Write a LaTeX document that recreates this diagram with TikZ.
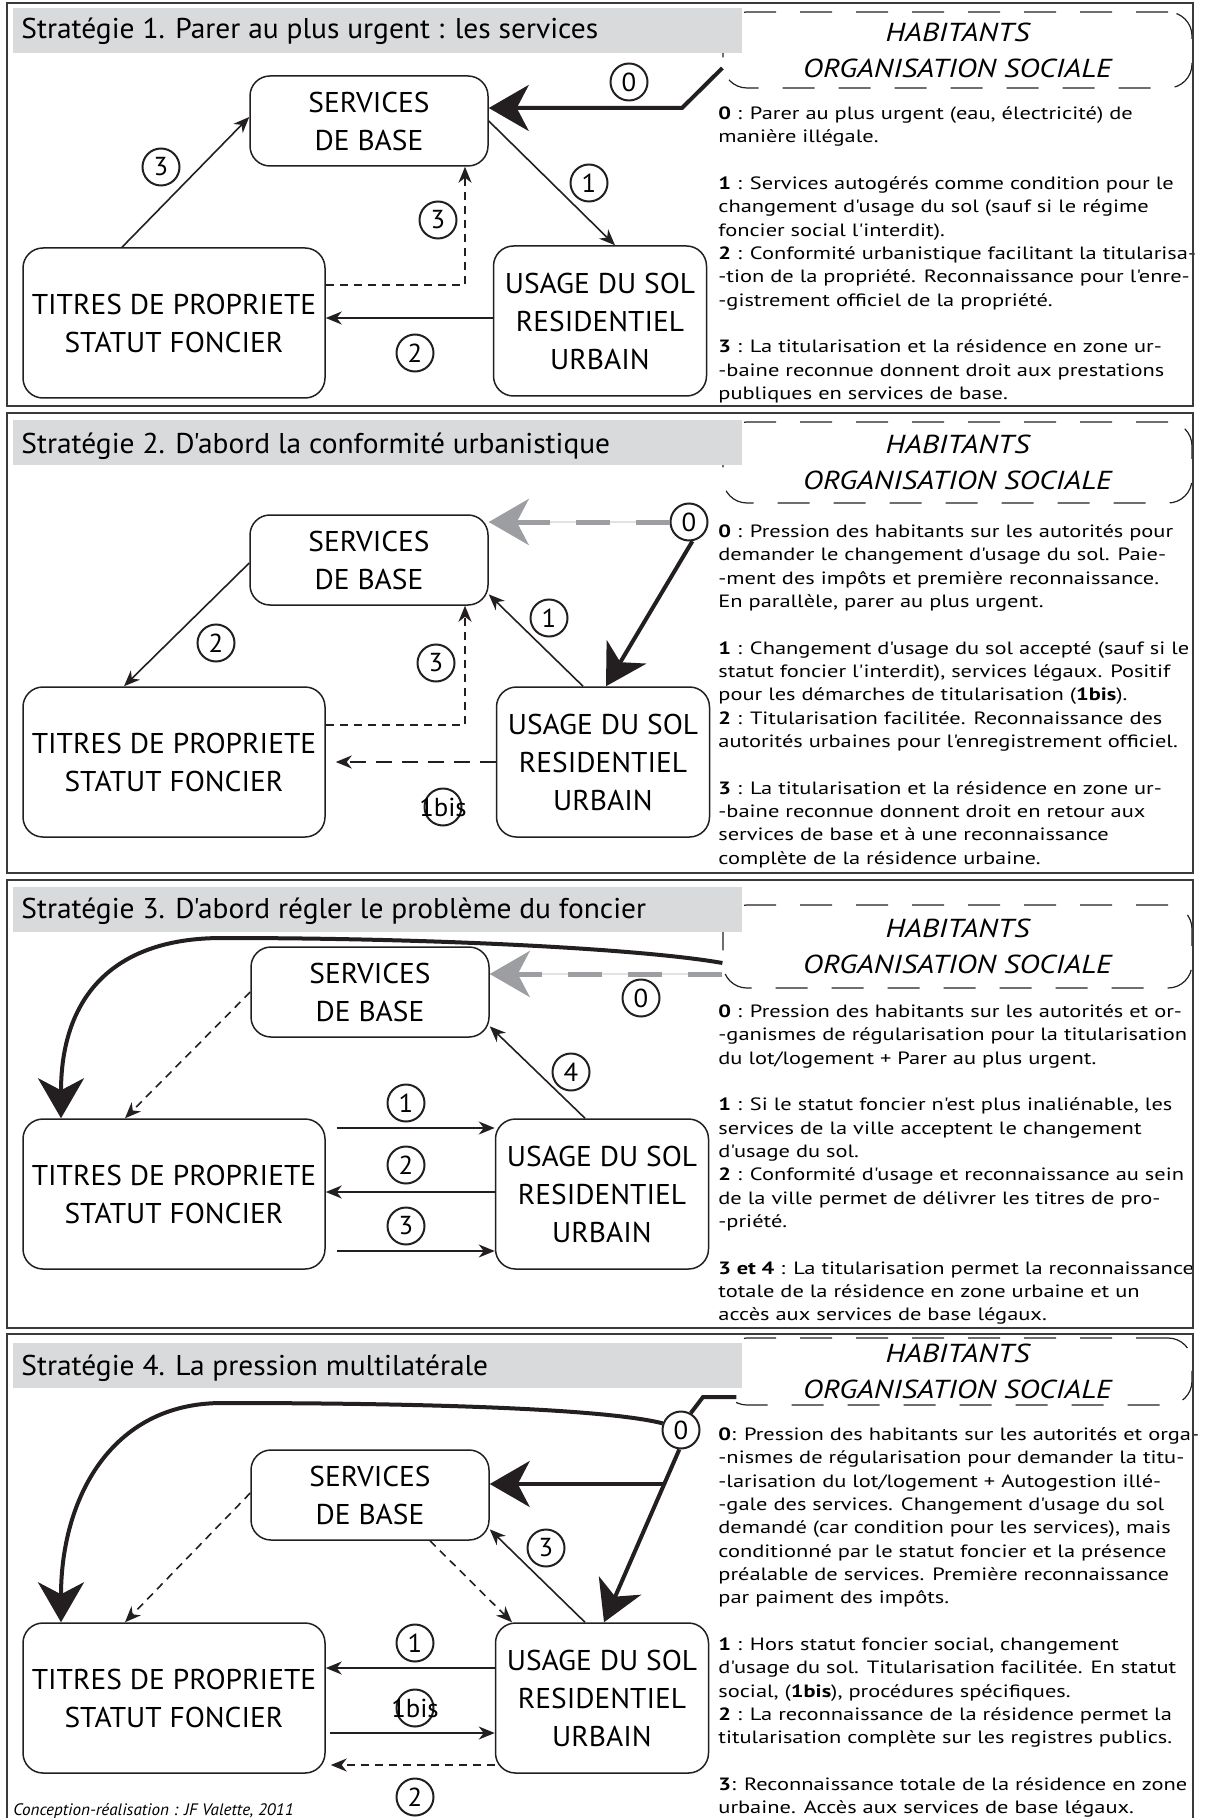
\documentclass[tikz,border=0pt]{standalone}
\usepackage{fontspec}
\setmainfont{PT Sans}
\newfontfamily\corps[FakeStretch=1.26]{PT Sans}
\newfontfamily\etroit[FakeStretch=1.03]{PT Sans}
\newfontfamily\habfont[FakeStretch=1.17]{PT Sans}
\usetikzlibrary{arrows.meta, positioning, calc}
\definecolor{GrisBande}{HTML}{D9DADB}
\definecolor{GrisFleche}{HTML}{9C9EA1}
\definecolor{GrisClair}{HTML}{E2E2E2}
\definecolor{Charbon}{HTML}{231F20}
\definecolor{Cadre}{HTML}{3A3A3A}
\tikzset{
  boite/.style={draw=Charbon, line width=0.75pt, rounded corners=10pt, align=center, inner sep=0pt, font=\etroit\fontsize{14.3}{19}\selectfont},
  serv/.style={boite, minimum width=119pt, minimum height=45pt},
  titr/.style={boite, minimum width=151pt, minimum height=75pt},
  usag/.style={boite, minimum width=106.5pt, minimum height=75pt},
  num/.style={circle, draw=Charbon, line width=1pt, minimum size=18.5pt, inner sep=0pt, font=\etroit\fontsize{13}{13}\selectfont},
  fleche/.style={draw=Charbon, line width=0.8pt, -{Stealth[length=8pt, width=6.5pt, inset=2.5pt]}},
  grosse/.style={draw=Charbon, line width=2pt, -{Stealth[length=20pt, width=23pt, inset=6pt]}},
  tirets/.style={fleche, dash pattern=on 4pt off 3pt},
  grise/.style={draw=GrisFleche, line width=2.5pt, dash pattern=on 17pt off 13pt, -{Stealth[length=20pt, width=23pt, inset=6pt]}},
  habit/.style={draw=Charbon, line width=0.6pt, dash pattern=on 16pt off 12pt, rounded corners=12pt, minimum width=234.5pt, align=center, inner sep=0pt, font=\habfont\itshape\fontsize{13}{18}\selectfont},
  cadre/.style={draw=Cadre, line width=1pt},
  bande/.style={fill=GrisBande},
  titre/.style={anchor=base west, inner sep=0pt, font=\etroit\fontsize{14.3}{17}\selectfont},
  texte/.style={anchor=north west, align=left, inner sep=0pt, font=\corps\fontsize{8.9}{11.67}\selectfont}
}
\begin{document}
\begin{tikzpicture}[x=0.5pt, y=-0.5pt]
\useasboundingbox (0,0) rectangle (1205,1818);
\clip (0,0) rectangle (1205,1818);

% Strategie 1
\node[habit, minimum height=38pt] (hab1) at (957.5,50) {HABITANTS\\ORGANISATION SOCIALE};
\fill[bande] (13,8) rectangle (742,53);
\node[titre] (tit1) at (21,39) {Stratégie 1. Parer au plus urgent : les services};
\node[serv] (serv1) at (369,121) {SERVICES\\DE BASE};
\node[titr] (titr1) at (174,323) {TITRES DE PROPRIETE\\STATUT FONCIER};
\node[usag] (usag1) at (600,321) {USAGE DU SOL\\RESIDENTIEL\\URBAIN};
\coordinate (d1) at ([yshift=-9pt]hab1.west);
\coordinate (k1) at (682,108);
\draw[grosse] (d1) -- (k1) -- (k1 -| serv1.east);
\node[num] (n10) at (629,82) {0};
\draw[fleche] ([xshift=-26pt]titr1.north) -- ([yshift=2pt]serv1.west);
\node[num] (n13) at (161,167) {3};
\draw[fleche] (serv1.east) -- ([xshift=7.5pt]usag1.north);
\node[num] (n11) at (589,183) {1};
\draw[fleche] ([yshift=1.5pt]usag1.west) -- ([yshift=1.5pt]usag1.west -| titr1.east);
\node[num] (n12) at (415,353) {2};
\draw[tirets] ([yshift=19pt]titr1.east) -| ([xshift=48pt]serv1.south);
\node[num] (n13b) at (438,220) {3};
\node[texte] (txt1) at (718,101) {\rule{0pt}{9pt}\textbf{0} : Parer au plus urgent (eau, électricité) de\\
manière illégale.\\[11.67pt]
\textbf{1} : Services autogérés comme condition pour le\\
changement d'usage du sol (sauf si le régime\\
foncier social l'interdit).\\
\textbf{2} : Conformité urbanistique facilitant la titularisa-\\
-tion de la propriété. Reconnaissance pour l'enre-\\
-gistrement officiel de la propriété.\\[11.67pt]
\textbf{3} : La titularisation et la résidence en zone ur-\\
-baine reconnue donnent droit aux prestations\\
publiques en services de base.};

% Strategie 2
\node[habit, minimum height=40.5pt] (hab2) at (957.5,462.5) {HABITANTS\\ORGANISATION SOCIALE};
\fill[bande] (13,420) rectangle (742,465);
\node[titre] (tit2) at (21,453) {Stratégie 2. D'abord la conformité urbanistique};
\node[serv] (serv2) at (369,560) {SERVICES\\DE BASE};
\node[titr] (titr2) at (174,762) {TITRES DE PROPRIETE\\STATUT FONCIER};
\node[usag] (usag2) at (603,762) {USAGE DU SOL\\RESIDENTIEL\\URBAIN};
\node[num] (n20) at (689,522) {0};
\draw[GrisClair, line width=0.8pt] (n20.west) -- (n20.west -| serv2.east);
\draw[grise] (n20.west) -- (n20.west -| serv2.east);
\draw[grosse] (n20.-80) -- ([xshift=1.5pt]usag2.north);
\draw[fleche] ([yshift=-1.5pt]serv2.west) -- ([xshift=-25pt]titr2.north);
\node[num] (n22) at (216,643) {2};
\draw[fleche] ([xshift=-10pt]usag2.north) -- (serv2.-16);
\node[num] (n21) at (549,618) {1};
\draw[tirets] ([yshift=18.5pt]titr2.east) -| ([xshift=48pt]serv2.south);
\node[num] (n23) at (436,663) {3};
\draw[tirets, dash pattern=on 8pt off 5pt, shorten >=5pt] (usag2.west) -- (usag2.west -| titr2.east);
\node[num] (n21b) at (443,807) {\makebox[0pt]{1bis}};
\node[texte] (txt2) at (718,519) {\rule{0pt}{9pt}\textbf{0} : Pression des habitants sur les autorités pour\\
demander le changement d'usage du sol. Paie-\\
-ment des impôts et première reconnaissance.\\
En parallèle, parer au plus urgent.\\[11.67pt]
\textbf{1} : Changement d'usage du sol accepté (sauf si le\\
statut foncier l'interdit), services légaux. Positif\\
pour les démarches de titularisation (\textbf{1bis}).\\
\textbf{2} : Titularisation facilitée. Reconnaissance des\\
autorités urbaines pour l'enregistrement officiel.\\[11.67pt]
\textbf{3} : La titularisation et la résidence en zone ur-\\
-baine reconnue donnent droit en retour aux\\
services de base et à une reconnaissance\\
complète de la résidence urbaine.};

% Strategie 3
\node[habit, minimum height=41.5pt] (hab3) at (957.5,946.5) {HABITANTS\\ORGANISATION SOCIALE};
\fill[bande] (13,887) rectangle (742,932);
\node[titre] (tit3) at (21,918) {Stratégie 3. D'abord régler le problème du foncier};
\node[serv] (serv3) at (370,992) {SERVICES\\DE BASE};
\node[titr] (titr3) at (174,1194) {TITRES DE PROPRIETE\\STATUT FONCIER};
\node[usag] (usag3) at (602,1194) {USAGE DU SOL\\RESIDENTIEL\\URBAIN};
\coordinate (d3) at ([yshift=-8.25pt]hab3.west);
\draw[grosse] (d3) .. controls (650,950) and (450,938) .. (222,938) .. controls (110,938) and (61,1000) .. ([xshift=-56.5pt]titr3.north);
\coordinate (g3) at ([yshift=-13.75pt]hab3.west);
\draw[GrisClair, line width=0.8pt] (g3) -- (g3 -| serv3.east);
\draw[grise] (g3) -- (g3 -| serv3.east);
\node[num] (n30) at (641,998) {0};
\draw[tirets] (serv3.west) -- ([xshift=-24.5pt]titr3.north);
\draw[fleche] ([xshift=-8.5pt]usag3.north) -- (serv3.-16);
\node[num] (n34) at (571,1072) {4};
\draw[fleche] ([xshift=5.5pt, yshift=33pt]titr3.east) -- ([yshift=33pt]usag3.west);
\node[num] (n31) at (406,1103) {1};
\draw[fleche] ([yshift=1pt]usag3.west) -- ([yshift=1pt]usag3.west -| titr3.east);
\node[num] (n32) at (406,1165) {2};
\draw[fleche] ([xshift=5.5pt, yshift=-28.5pt]titr3.east) -- ([yshift=-28.5pt]usag3.west);
\node[num] (n33) at (406,1226) {3};
\node[texte] (txt3) at (718,999) {\rule{0pt}{9pt}\textbf{0} : Pression des habitants sur les autorités et or-\\
-ganismes de régularisation pour la titularisation\\
du lot/logement + Parer au plus urgent.\\[11.67pt]
\textbf{1} : Si le statut foncier n'est plus inaliénable, les\\
services de la ville acceptent le changement\\
d'usage du sol.\\
\textbf{2} : Conformité d'usage et reconnaissance au sein\\
de la ville permet de délivrer les titres de pro-\\
-priété.\\[11.67pt]
\textbf{3 et 4} : La titularisation permet la reconnaissance\\
totale de la résidence en zone urbaine et un\\
accès aux services de base légaux.};

% Strategie 4
\node[habit, minimum height=33.5pt] (hab4) at (957.5,1371.5) {HABITANTS\\ORGANISATION SOCIALE};
\fill[bande] (13,1343) rectangle (742,1388);
\node[titre] (tit4) at (21,1375) {Stratégie 4. La pression multilatérale};
\node[serv] (serv4) at (370,1495) {SERVICES\\DE BASE};
\node[titr] (titr4) at (174,1698) {TITRES DE PROPRIETE\\STATUT FONCIER};
\node[usag] (usag4) at (602,1698) {USAGE DU SOL\\RESIDENTIEL\\URBAIN};
\node[num] (n40) at (681,1430) {0};
\coordinate (k4) at (703,1397);
\coordinate (d4) at ([xshift=7pt, yshift=-12.75pt]hab4.west);
\draw[Charbon, line width=2pt] (n40.60) -- (k4) -- (d4);
\draw[grosse] (n40.160) .. controls (610,1410) and (450,1403) .. (222,1403) .. controls (110,1403) and (61,1500) .. ([xshift=-56.5pt]titr4.north);
\draw[grosse] (n40.-95) -- ([xshift=1pt]usag4.north);
\path (n40.-95) -- ([xshift=1pt]usag4.north) coordinate[pos=0.2] (b4);
\draw[grosse] (b4) -- (b4 -| serv4.east);
\draw[tirets] ([yshift=1pt]serv4.west) -- ([xshift=-24.5pt]titr4.north);
\draw[tirets] ([xshift=30pt]serv4.south) -- ([xshift=-45pt]usag4.north);
\draw[fleche] ([xshift=-8.5pt]usag4.north) -- (serv4.-16);
\node[num] (n43) at (546,1548) {3};
\draw[fleche] ([yshift=15pt]usag4.west) -- ([yshift=15pt]usag4.west -| titr4.east);
\node[num] (n41) at (415,1643) {1};
\draw[fleche] ([xshift=2pt, yshift=-17.5pt]titr4.east) -- ([yshift=-17.5pt]usag4.west);
\node[num] (n41b) at (415,1708) {\makebox[0pt]{1bis}};
\draw[tirets, shorten >=2.5pt] ([yshift=-33.5pt]usag4.west) -- ([yshift=-33.5pt]usag4.west -| titr4.east);
\node[num] (n42) at (415,1797) {2};
\node[texte] (txt4) at (718,1422) {\rule{0pt}{9pt}\textbf{0}: Pression des habitants sur les autorités et orga-\\
-nismes de régularisation pour demander la titu-\\
-larisation du lot/logement + Autogestion illé-\\
-gale des services. Changement d'usage du sol\\
demandé (car condition pour les services), mais\\
conditionné par le statut foncier et la présence\\
préalable de services. Première reconnaissance\\
par paiment des impôts.\\[11.67pt]
\textbf{1} : Hors statut foncier social, changement\\
d'usage du sol. Titularisation facilitée. En statut\\
social, (\textbf{1bis}), procédures spécifiques.\\
\textbf{2} : La reconnaissance de la résidence permet la\\
titularisation complète sur les registres publics.\\[11.67pt]
\textbf{3}: Reconnaissance totale de la résidence en zone\\
urbaine. Accès aux services de base légaux.};
\node[anchor=base west, inner sep=0pt, font=\etroit\itshape\fontsize{8.3}{8.3}\selectfont] (credit) at (13,1815) {Conception-réalisation : JF Valette, 2011};

% cadres
\draw[cadre] (7,3) rectangle (1193,406);
\draw[cadre] (7,413) rectangle (1193,873);
\draw[cadre] (7,880) rectangle (1193,1328);
\draw[cadre] (7,1334) rectangle (1193,1840);
\end{tikzpicture}
\end{document}
